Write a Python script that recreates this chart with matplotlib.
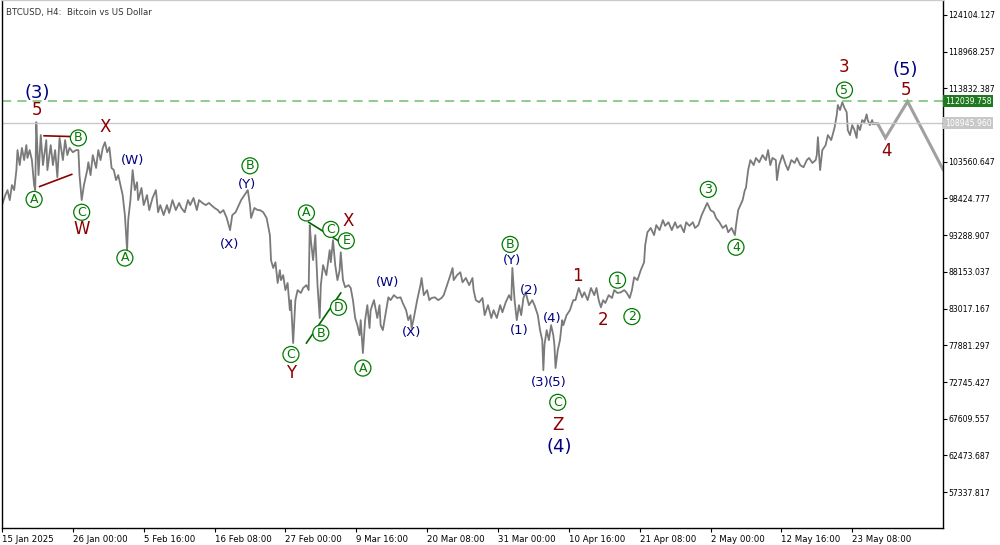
import matplotlib
matplotlib.use("Agg")
import matplotlib.pyplot as plt

# 4h bar index since 15 Jan 2025, price in thousand USD
bars = [0,3,5,7,9,11,13,14,16,18,20,22,23,25,27,29,30,31,32,33,35,37,40,41,44,46,48,50,52,55,57,59,61,64,67,69,70,72,74,77,78,80,82,85,87,89,91,93,95,97,99,101,103,105,107,109,111,113,114,116,118,120,122,123,126,128,131,133,136,139,141,143,146,149,151,154,157,160,162,165,168,170,173,176,178,181,184,187,189,192,195,197,200,203,206,208,211,214,216,219,222,224,225,228,231,233,236,239,242,243,245,247,249,251,252,254,256,258,260,261,263,265,267,270,272,275,277,278,279,281,283,285,287,288,290,293,296,297,299,301,303,305,306,308,310,313,315,317,319,321,323,324,326,328,330,332,333,336,339,341,342,344,347,349,351,354,357,360,362,365,367,369,370,372,375,378,379,381,384,386,388,391,394,397,399,402,405,407,408,411,414,416,419,422,425,426,428,431,434,436,439,442,444,447,450,452,455,458,460,461,463,465,467,469,471,473,476,479,481,484,486,488,489,490,492,494,496,498,499,500,502,504,506,507,510,513,516,518,521,524,526,529,532,535,537,539,541,543,545,548,551,553,556,559,562,564,567,569,571,574,577,580,581,583,586,589,591,594,597,599,602,605,608,610,613,616,618,621,624,626,629,632,635,637,640,643,645,648,651,654,656,659,662,663,665,667,669,671,672,674,676,679,681,684,687,690,692,694,696,699,700,702,705,708,710,713,716,718,721,724,727,729,732,735,736,737,739,741,744,746,749,752,754,755,757,759,761,763,764,766,768,770,772,773,775,777,779,781,782,784,786,787]
prices = [97.5,98.9,99.6,98.2,100.3,99.6,102.4,105.2,103.1,105.5,103.8,105.9,104.1,105.2,103.8,100.3,99.6,109.1,105.2,101.7,107.3,103.1,106.6,102.4,105.9,103.1,105.2,101.4,106.9,103.8,106.6,104.5,105.5,104.9,105.2,105.2,101.7,98.2,100.3,102.4,103.5,101.7,104.5,102.7,105.2,103.8,105.5,106.3,104.9,105.6,102.7,102.4,101.0,101.7,100.3,98.9,96.1,91.2,95.4,98.2,102.4,99.6,100.7,98.2,99.9,97.5,98.9,96.8,98.5,99.6,96.5,97.5,96.1,97.5,96.4,98.2,96.8,97.8,97.1,96.5,98.2,97.5,98.5,96.8,98.2,97.8,97.5,97.8,97.5,97.1,96.8,96.4,96.8,95.7,94.0,96.1,96.5,97.5,98.2,98.9,99.6,97.5,95.7,97.1,96.8,96.8,96.5,95.7,93.3,89.8,88.7,89.5,86.6,88.4,87.0,87.7,85.6,86.6,82.8,84.2,78.2,84.2,85.6,85.2,85.9,86.3,85.6,94.7,92.6,89.8,93.3,86.3,81.7,86.3,89.1,87.7,91.2,89.5,92.6,89.1,87.0,88.4,90.9,87.0,86.0,86.3,85.9,84.2,81.7,80.7,79.3,81.4,76.8,81.4,83.5,80.3,82.8,84.2,81.7,83.5,80.7,80.0,82.8,84.6,84.2,84.9,84.5,84.6,83.8,82.8,81.4,82.1,80.3,81.7,84.2,86.3,87.3,84.9,85.6,84.2,84.5,84.6,84.2,84.5,84.9,86.3,87.7,88.7,87.0,87.7,88.1,86.7,87.3,86.3,87.3,85.6,84.2,83.9,84.5,82.1,83.5,81.7,82.8,81.7,83.5,82.5,83.9,84.9,84.2,88.7,84.2,81.4,83.5,82.1,84.5,85.3,83.5,84.2,83.5,82.1,80.0,78.6,74.4,77.9,80.0,78.6,80.7,79.3,77.9,74.7,77.2,78.6,81.4,80.7,82.1,82.8,84.2,84.2,85.9,84.6,85.3,84.2,85.9,84.9,85.9,84.2,83.2,84.2,83.8,84.9,84.5,85.6,85.2,85.3,85.6,85.3,84.5,85.6,87.4,87.0,88.4,89.5,91.9,93.7,94.3,93.3,94.7,94.0,95.4,94.6,95.1,94.0,95.1,94.3,94.7,93.7,95.1,94.6,95.1,94.3,94.7,96.1,97.1,97.8,96.8,96.5,95.7,95.1,94.3,94.7,93.7,94.3,93.3,94.6,96.8,97.5,98.2,99.6,99.9,102.4,103.8,103.1,104.1,103.5,104.5,103.8,105.2,103.1,104.1,103.8,101.0,103.1,104.5,103.1,102.4,103.8,103.4,104.1,103.1,102.8,103.8,104.1,103.4,103.8,104.5,107.0,102.4,105.2,105.9,107.3,106.6,108.3,110.1,111.5,110.8,111.9,111.1,110.5,108.0,107.3,108.7,108.0,106.9,108.7,108.0,109.4,109.1,110.2,109.4,108.7,109.4,108.9]

proj_bars = [787, 791, 798, 818, 850]
proj_prices = [108.9, 108.9, 106.9, 112.0, 102.5]

level_green = 112039.758
level_grey = 108945.960

x_tick_labels = ["15 Jan 2025","26 Jan 00:00","5 Feb 16:00","16 Feb 08:00","27 Feb 00:00","9 Mar 16:00",
                 "20 Mar 08:00","31 Mar 00:00","10 Apr 16:00","21 Apr 08:00","2 May 00:00","12 May 16:00","23 May 08:00"]
y_ticks = [124104.127,118968.257,113832.387,108696.517,103560.647,98424.777,93288.907,88153.037,
           83017.167,77881.297,72745.427,67609.557,62473.687,57337.817]

RED = "#8b0000"; NAVY = "#000080"; GRN = "#007a00"
# (text, bar, price k, kind)
labels = [
 ("(3)",32,113.2,"navy_b"),("5",32,110.8,"red"),("A",29,98.3,"c"),("B",69,106.9,"c"),("C",72,96.5,"c"),
 ("W",72,94.1,"red"),("X",93,108.4,"red"),("(W)",118,103.8,"navy"),("A",111,90.1,"c"),("B",224,103.0,"c"),
 ("(Y)",221,100.4,"navy"),("(X)",206,92.0,"navy"),("A",275,96.4,"c"),("C",297,94.1,"c"),("X",313,95.3,"red"),
 ("E",311,92.5,"c"),("D",304,83.2,"c"),("B",288,79.6,"c"),("C",261,76.6,"c"),("Y",261,74.0,"red"),
 ("A",326,74.7,"c"),("(W)",348,86.7,"navy"),("(X)",370,79.7,"navy"),("B",459,92.0,"c"),("(Y)",461,89.7,"navy"),
 ("(2)",476,85.5,"navy"),("(1)",467,80.0,"navy"),("(4)",497,81.7,"navy"),("(3)",486,72.7,"navy"),("(5)",502,72.7,"navy"),
 ("C",502,69.9,"c"),("Z",502,66.7,"red"),("(4)",503,63.6,"navy_b"),("1",520,87.6,"red"),("2",543,81.4,"red"),
 ("1",556,87.0,"c"),("2",569,81.9,"c"),("3",638,99.7,"c"),("4",663,91.6,"c"),("5",761,113.6,"c"),
 ("3",761,116.8,"red"),("(5)",816,116.4,"navy_b"),("5",817,113.6,"red"),("4",799,105.1,"red"),
]

fig = plt.figure(figsize=(10,5.45), dpi=100)
ax = fig.add_axes([0.002, 17/545, 0.941, 528/545])
ax.set_xlim(0, 850)
ax.set_ylim(52314, 126203)

ax.plot(bars, [p*1000 for p in prices], color="#7a7a7a", lw=1.3)
ax.plot(proj_bars, [p*1000 for p in proj_prices], color="#a0a0a0", lw=2.2, solid_joinstyle="miter")
ax.axhline(level_green, color="#6fbf6f", ls=(0,(6,4)), lw=1.1)
ax.axhline(level_grey, color="#c8c8c8", lw=1)

# wave trendlines
ax.plot([38,61],[107.2e3,107.1e3], color=RED, lw=1.2)
ax.plot([34,63],[100.1e3,101.8e3], color=RED, lw=1.2)
ax.plot([277,308],[95.1e3,92.1e3], color="#006400", lw=1.2)
ax.plot([275,306],[78.2e3,85.2e3], color="#006400", lw=1.2)

for t, b, p, k in labels:
    y = p*1000
    if k == "c":
        ax.text(b, y, t, color=GRN, fontsize=9, ha="center", va="center",
                bbox=dict(boxstyle="circle,pad=0.12", fc="white", ec=GRN, lw=0.9))
    elif k == "red":
        ax.text(b, y, t, color=RED, fontsize=12, ha="center", va="center")
    elif k == "navy_b":
        ax.text(b, y, t, color=NAVY, fontsize=13, ha="center", va="center")
    else:
        ax.text(b, y, t, color=NAVY, fontsize=9.5, ha="center", va="center")

ax.set_xticks([i*64 for i in range(len(x_tick_labels))])
ax.set_xticklabels(x_tick_labels, fontsize=6.2, ha="left")
ax.tick_params(axis="x", length=3, pad=2)
ax.yaxis.tick_right()
ax.set_yticks(y_ticks)
ax.set_yticklabels(["" if abs(v-level_grey) <= 1500 else f"{v:.3f}" for v in y_ticks], fontsize=5.6)
ax.tick_params(axis="y", length=3, pad=1)
for s in ax.spines.values():
    s.set_color("black"); s.set_linewidth(1)
ax.spines["top"].set_color("#cccccc")

ax.text(1.002, level_green, f"{level_green:.3f}", transform=ax.get_yaxis_transform(), fontsize=5.6,
        color="white", va="center", ha="left", bbox=dict(boxstyle="square,pad=0.2", fc="#1f7a1f", ec="none"))
ax.text(1.002, level_grey, f"{level_grey:.3f}", transform=ax.get_yaxis_transform(), fontsize=5.6,
        color="white", va="center", ha="left", bbox=dict(boxstyle="square,pad=0.2", fc="#c8c8c8", ec="none"))
ax.text(0.004, 0.985, "BTCUSD, H4:  Bitcoin vs US Dollar", transform=ax.transAxes, fontsize=6.2,
        va="top", ha="left", color="#333333")

fig.savefig("out.png", dpi=100)
